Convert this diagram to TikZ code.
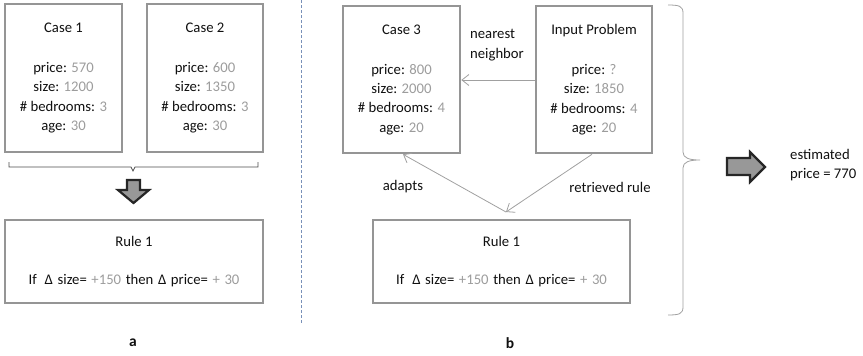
\documentclass[tikz,border=0pt]{standalone}
\usepackage{fontspec}
\setmainfont{Carlito}
\usetikzlibrary{arrows.meta}
\definecolor{boxgray}{HTML}{959595}
\definecolor{numgray}{HTML}{9C9C9C}
\definecolor{linegray}{HTML}{A0A0A0}
\definecolor{txt}{HTML}{101010}
\definecolor{sepblue}{HTML}{7890B8}
\newcommand{\nv}[1]{\textcolor{numgray}{#1}}
% rule statement, set with slightly wider word spaces
\newcommand{\rulestmt}{{\spaceskip=4.6pt plus 1pt If\hspace{8pt}Δ size= \nv{+150} then Δ price= \nv{+ 30}}}
\tikzset{
  casebox/.style={draw=boxgray, line width=2.6pt, align=center, text=txt,
    font=\fontsize{14.7}{19.3}\selectfont, inner sep=0pt},
  plain/.style={text=txt, font=\fontsize{14.7}{19.3}\selectfont, inner sep=0pt},
  link/.style={draw=linegray, line width=0.8pt, -{Straight Barb[length=7pt,width=11pt]}},
  blockarrow/.style={draw=black!85, line width=2.2pt, fill=gray!85!black!70, line join=miter},
}
\begin{document}
\begin{tikzpicture}[x=1pt,y=-1pt]
\useasboundingbox (0,0) rectangle (863,356);

% ---- panel a ----
\node[casebox, minimum width=117, minimum height=148] (c1) at (63.5,78)
  {Case 1\\[1.5pt] \\ price: \nv{570}\\ size: \nv{1200}\\ \# bedrooms: \nv{3}\\ age: \nv{30}};
\node[casebox, minimum width=116, minimum height=148] (c2) at (205,78)
  {Case 2\\[1.5pt] \\ price: \nv{600}\\ size: \nv{1350}\\ \# bedrooms: \nv{3}\\ age: \nv{30}};

% bracket joining the two cases
\draw[black!70, line width=0.7pt] (9,162) -- (9,167) -- (131,167) -- (133,171) -- (135,167) -- (258,167) -- (258,162);

% downward block arrow
\draw[blockarrow] (127,180) -- (140,180) -- (140,190) -- (149,190) -- (133.5,203) -- (118,190) -- (127,190) -- cycle;

\node[casebox, minimum width=258, minimum height=83] (r1) at (134,261.5)
  {Rule 1\\ \\ \rulestmt};

\node[plain, font=\fontsize{15.5}{16}\selectfont\bfseries] (la) at (133,343) {a};

% separator between panels
\draw[sepblue, line width=0.7pt, dash pattern=on 3pt off 2pt] (301,0) -- (301,323);

% ---- panel b ----
\node[casebox, minimum width=117, minimum height=147] (c3) at (401.5,79.5)
  {Case 3\\[1.5pt] \\ price: \nv{800}\\ size: \nv{2000}\\ \# bedrooms: \nv{4}\\ age: \nv{20}};
\node[casebox, minimum width=116, minimum height=147] (ip) at (594,79.5)
  {Input Problem\\[1.5pt] \\ price: \nv{?}\\ size: \nv{1850}\\ \# bedrooms: \nv{4}\\ age: \nv{20}};

\node[casebox, minimum width=257, minimum height=83] (r2) at (501.5,261.5)
  {Rule 1\\ \\ \rulestmt};

\coordinate (meet) at (506,212);
\draw[link] (ip.west |- 0,80) -- (c3.east |- 0,80);
\draw[link] (ip.south -| 592,0) -- (meet);
\draw[link] (meet) -- (c3.south -| 403,0);

\node[plain, align=left, anchor=west] (nn) at (470,45) {nearest\\ neighbor};
\node[plain] (ad) at (403,187) {adapts};
\node[plain] (rr) at (610,187) {retrieved rule};

\node[plain, font=\fontsize{15.5}{16}\selectfont\bfseries] (lb) at (510,343) {b};

% brace gathering panel b
\draw[linegray, line width=0.8pt]
  (668,5) .. controls (679,5) and (683,6) .. (683,13) -- (683,152)
  .. controls (683,158) and (689,160) .. (700,160)
  .. controls (689,160) and (683,162) .. (683,168) -- (683,307)
  .. controls (683,314) and (679,315) .. (668,315);

% result arrow
\draw[blockarrow] (727,158) -- (750,158) -- (750,152) -- (765,167) -- (750,182) -- (750,175) -- (727,175) -- cycle;

\node[plain, align=left, anchor=west] (est) at (790,165) {estimated\\ price = 770};
\end{tikzpicture}
\end{document}
